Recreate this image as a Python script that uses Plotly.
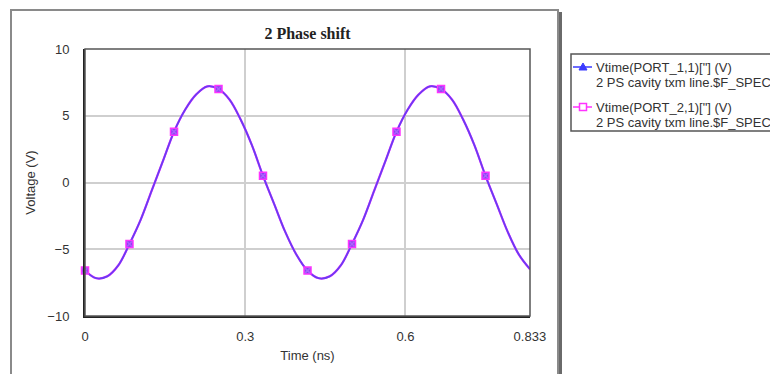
import plotly.graph_objects as go

# ---------------- data ----------------
time_ns = [round(i * 0.8333 / 40, 5) for i in range(41)]
v_port1 = [-6.6, -7.17, -7.03, -6.2, -4.6, -2.8, -0.6, 1.6, 3.8, 5.45,
           6.6, 7.2, 7.0, 6.2, 4.7, 2.8, 0.5, -1.6, -3.7, -5.4,
           -6.6, -7.17, -7.03, -6.2, -4.6, -2.8, -0.6, 1.6, 3.8, 5.45,
           6.6, 7.2, 7.0, 6.2, 4.7, 2.8, 0.5, -1.6, -3.7, -5.4, -6.5]
v_port2 = list(v_port1)

mark_time = [0.0, 0.0833, 0.1667, 0.25, 0.3333, 0.4167, 0.5, 0.5833, 0.6667, 0.75]
mark_v1 = [-6.6, -4.6, 3.8, 7.0, 0.5, -6.6, -4.6, 3.8, 7.0, 0.5]
mark_v2 = list(mark_v1)

x_ticks = [0, 0.3, 0.6, 0.833]
x_tick_text = ["0", "0.3", "0.6", "0.833"]
y_ticks = [-10, -5, 0, 5, 10]

series_names = ['Vtime(PORT_1,1)["] (V)', 'Vtime(PORT_2,1)["] (V)']
series_sub = "2 PS cavity txm line.$F_SPEC"

c1 = "#3b3bff"
c2 = "#ff33ff"
cline = "#6a3cf5"

fig = go.Figure()
fig.add_trace(go.Scatter(x=time_ns, y=v_port2, mode="lines", name=series_names[1],
                         line=dict(color=c2, width=2.2, shape="spline"),
                         showlegend=False, hoverinfo="skip"))
fig.add_trace(go.Scatter(x=time_ns, y=v_port1, mode="lines", name=series_names[0],
                         line=dict(color=cline, width=1.8, shape="spline"),
                         showlegend=False, hoverinfo="skip"))
fig.add_trace(go.Scatter(x=mark_time, y=mark_v2, mode="markers",
                         marker=dict(symbol="square", size=7, color="#8c3cf5", line=dict(color=c2, width=1.5)),
                         showlegend=False, hoverinfo="skip", cliponaxis=False))
fig.add_trace(go.Scatter(x=mark_time, y=mark_v1, mode="markers",
                         marker=dict(symbol="x-thin-open", size=5, line=dict(color=c1, width=1.5)),
                         showlegend=False, hoverinfo="skip", cliponaxis=False))

# page body has an 8px margin: figure origin is at (8, 8) of the window
OFF = 8
W, H = 778 - OFF, 374 - OFF
L, R, T, B = 85, 530, 49, 316          # plot area in window pixels
pw, ph = R - L, B - T

def px(x):
    return (x - L) / pw

def py(y):
    return (B - y) / ph

shapes = [
    # outer frame
    dict(type="rect", xref="paper", yref="paper", x0=px(11), x1=px(558), y0=py(395), y1=py(10),
         line=dict(color="#8a8a8a", width=2), layer="below"),
    dict(type="line", xref="paper", yref="paper", x0=px(560.5), x1=px(560.5), y0=py(395), y1=py(12),
         line=dict(color="#6a6a6a", width=3)),
    # plot border (top/right)
    dict(type="rect", xref="paper", yref="paper", x0=0, x1=1, y0=0, y1=1,
         line=dict(color="#555555", width=1.5)),
    # legend box
    dict(type="rect", xref="paper", yref="paper", x0=px(571), x1=px(800), y0=py(131), y1=py(54),
         line=dict(color="#555555", width=1.5), fillcolor="white"),
    # legend symbol 1: line + triangle
    dict(type="line", xref="paper", yref="paper", x0=px(573), x1=px(592), y0=py(67), y1=py(67),
         line=dict(color=c1, width=1.5)),
    dict(type="path", xref="paper", yref="paper",
         path="M %f %f L %f %f L %f %f Z" % (px(579), py(70), px(587), py(70), px(583), py(63)),
         fillcolor=c1, line=dict(color=c1, width=1)),
    # legend symbol 2: line + open square
    dict(type="line", xref="paper", yref="paper", x0=px(573), x1=px(592), y0=py(107), y1=py(107),
         line=dict(color=c2, width=1.5)),
    dict(type="rect", xref="paper", yref="paper", x0=px(579.5), x1=px(586.5), y0=py(110.5), y1=py(103.5),
         fillcolor="white", line=dict(color=c2, width=1.5)),
]

leg_font = dict(family="Liberation Sans, Arial, sans-serif", size=13, color="#333333")
annotations = []
for name, y1, y2 in [(series_names[0], 67, 82), (series_names[1], 107, 122)]:
    annotations.append(dict(text=name, x=px(594), y=py(y1), xref="paper", yref="paper",
                            xanchor="left", yanchor="middle", showarrow=False, font=leg_font))
    annotations.append(dict(text=series_sub, x=px(594), y=py(y2), xref="paper", yref="paper",
                            xanchor="left", yanchor="middle", showarrow=False, font=leg_font))

axis_font = dict(family="Liberation Sans, Arial, sans-serif", size=13, color="#333333")
title_font = dict(family="Liberation Sans, Arial, sans-serif", size=13, color="#333333")

fig.update_layout(
    width=W, height=H,
    margin=dict(l=L - OFF, r=W - (R - OFF), t=T - OFF, b=H - (B - OFF), autoexpand=False),
    paper_bgcolor="white", plot_bgcolor="white",
    title=dict(text="<b>2 Phase shift</b>", x=px(307.5), xref="paper", xanchor="center",
               y=(H - (33 - OFF)) / H, yref="container", yanchor="middle",
               font=dict(family="Liberation Serif, Times New Roman, serif", size=16, color="#222222")),
    xaxis=dict(range=[0, 0.8333], tickvals=x_ticks, ticktext=x_tick_text, showgrid=True,
               gridcolor="#cfcfcf", gridwidth=1.5, zeroline=False, showline=True, linecolor="#222222",
               linewidth=2, ticks="", tickfont=axis_font, ticklabelstandoff=7,
               title=dict(text="Time (ns)", font=title_font, standoff=8)),
    yaxis=dict(range=[-10, 10], tickvals=y_ticks, showgrid=True, gridcolor="#cfcfcf", gridwidth=1.5,
               zeroline=False, showline=True, linecolor="#222222", linewidth=2, ticks="",
               tickfont=axis_font, ticklabelstandoff=11,
               title=dict(text="Voltage (V)", font=title_font, standoff=9)),
    shapes=shapes,
    annotations=annotations,
    showlegend=False,
)

fig.write_html("out.html")
